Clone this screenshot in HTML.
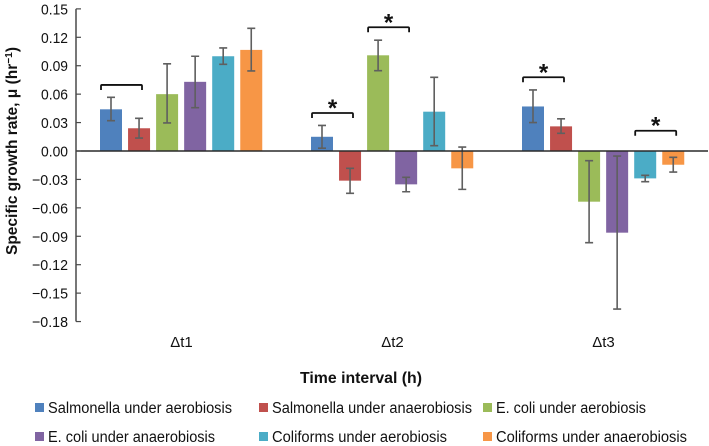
<!DOCTYPE html>
<html lang="en">
<head>
<meta charset="utf-8">
<title>Specific growth rate chart</title>
<style>
html,body{margin:0;padding:0;background:#fff;width:709px;height:446px;overflow:hidden}
svg{display:block;filter:blur(0.35px)}
text{font-family:"Liberation Sans",sans-serif;fill:#111}
</style>
</head>
<body>
<svg id="chart" xmlns="http://www.w3.org/2000/svg" width="709" height="446" viewBox="0 0 709 446">
  <rect x="0" y="0" width="709" height="446" fill="#fff"/>
  <g id="bars"></g>
  <g id="errors"></g>
  <g id="brackets"></g>
  <g id="axes"></g>
  <text transform="translate(17,255) rotate(-90)" font-size="16" font-weight="700" textLength="208" lengthAdjust="spacingAndGlyphs">Specific growth rate, μ (hr<tspan font-size="10.5" dy="-5">−1</tspan><tspan dy="5">)</tspan></text>
  <text x="300" y="383" font-size="16" font-weight="700" textLength="122" lengthAdjust="spacingAndGlyphs">Time interval (h)</text>
  <g id="legend"></g>
</svg>
<script>
const categories = ['Δt1', 'Δt2', 'Δt3'];
const seriesNames = ['Salmonella under aerobiosis', 'Salmonella under anaerobiosis', 'E. coli under aerobiosis', 'E. coli under anaerobiosis', 'Coliforms under aerobiosis', 'Coliforms under anaerobiosis'];
const seriesColors = ['#4F81BD', '#C0504D', '#9BBB59', '#8064A2', '#4BACC6', '#F79646'];
const salmonellaAerobic = [0.044, 0.015, 0.047];
const salmonellaAnaerobic = [0.024, -0.0313, 0.026];
const ecoliAerobic = [0.060, 0.101, -0.0535];
const ecoliAnaerobic = [0.073, -0.0352, -0.0862];
const coliformsAerobic = [0.100, 0.0415, -0.0289];
const coliformsAnaerobic = [0.1067, -0.0183, -0.0145];
const errHighSalmonellaAerobic = [0.0567, 0.027, 0.0644];
const errLowSalmonellaAerobic = [0.032, 0.003, 0.030];
const errHighSalmonellaAnaerobic = [0.0345, -0.0183, 0.034];
const errLowSalmonellaAnaerobic = [0.0137, -0.0447, 0.0187];
const errHighEcoliAerobic = [0.092, 0.117, -0.0102];
const errLowEcoliAerobic = [0.0296, 0.0848, -0.0968];
const errHighEcoliAnaerobic = [0.100, -0.0278, -0.0053];
const errLowEcoliAnaerobic = [0.0457, -0.043, -0.1668];
const errHighColiformsAerobic = [0.1088, 0.0778, -0.0257];
const errLowColiformsAerobic = [0.0915, 0.0056, -0.0324];
const errHighColiformsAnaerobic = [0.1295, 0.0042, -0.0067];
const errLowColiformsAnaerobic = [0.0845, -0.0405, -0.0222];
const tickValues = [0.15, 0.12, 0.09, 0.06, 0.03, 0, -0.03, -0.06, -0.09, -0.12, -0.15, -0.18];
const bracketGroups = [0, 1, 1, 2, 2];
const bracketFirstSeries = [0, 0, 2, 0, 4];
const bracketLevels = [0.0697, 0.0401, 0.1306, 0.0778, 0.0214];
const bracketMarks = ['', '*', '*', '*', '*'];

const seriesValues = [salmonellaAerobic, salmonellaAnaerobic, ecoliAerobic, ecoliAnaerobic, coliformsAerobic, coliformsAnaerobic];
const seriesErrHigh = [errHighSalmonellaAerobic, errHighSalmonellaAnaerobic, errHighEcoliAerobic, errHighEcoliAnaerobic, errHighColiformsAerobic, errHighColiformsAnaerobic];
const seriesErrLow = [errLowSalmonellaAerobic, errLowSalmonellaAnaerobic, errLowEcoliAerobic, errLowEcoliAnaerobic, errLowColiformsAerobic, errLowColiformsAnaerobic];

const NS = 'http://www.w3.org/2000/svg';
const axisX = 76;
const groupWidth = 211;
const barWidth = 22;
const barStep = 28.05;
const yScale = v => 151 - v * 947.5;
const groupCenter = g => axisX + groupWidth * (g + 0.5);
const barLeft = (g, s) => groupCenter(g) - 81.5 + s * barStep;

function make(tag, parent, attrs, text) {
  const el = document.createElementNS(NS, tag);
  for (const k in attrs) el.setAttribute(k, attrs[k]);
  if (text !== undefined) el.textContent = text;
  parent.appendChild(el);
  return el;
}
const barsG = document.getElementById('bars');
const errG = document.getElementById('errors');
const brG = document.getElementById('brackets');
const axG = document.getElementById('axes');
const lgG = document.getElementById('legend');

seriesValues.forEach((vals, s) => {
  vals.forEach((v, g) => {
    const y0 = yScale(0), y1 = yScale(v);
    const bar = make('rect', barsG, {x: barLeft(g, s), y: Math.min(y0, y1), width: barWidth, height: Math.abs(y1 - y0), fill: seriesColors[s]});
    
    

    const cx = barLeft(g, s) + barWidth / 2;
    const hi = yScale(seriesErrHigh[s][g]), lo = yScale(seriesErrLow[s][g]);
    const d = `M${cx} ${hi}V${lo}M${cx - 4} ${hi}H${cx + 4}M${cx - 4} ${lo}H${cx + 4}`;
    const err = make('path', errG, {d: d, fill: 'none', stroke: '#5f5f5f', 'stroke-width': 1.6});
    
    
  });
});

bracketGroups.forEach((g, i) => {
  const x0 = barLeft(g, bracketFirstSeries[i]) + 1;
  const x1 = x0 + 41;
  const y = yScale(bracketLevels[i]);
  const br = make('path', brG, {d: `M${x0} ${y + 5}V${y + 1}Q${x0} ${y} ${x0 + 1} ${y}H${x1 - 1}Q${x1} ${y} ${x1} ${y + 1}V${y + 5}`, fill: 'none', stroke: '#111', 'stroke-width': 1.8});
  
  
  if (bracketMarks[i]) {
    const st = make('text', brG, {x: (x0 + x1) / 2, y: y + 3, 'text-anchor': 'middle', 'font-size': 24, 'font-weight': 700}, bracketMarks[i]);
    
    
  }
});

const yAxisLine = make('line', axG, {x1: axisX, x2: axisX, y1: yScale(tickValues[0]), y2: yScale(tickValues[tickValues.length - 1]), stroke: '#4a4a4a', 'stroke-width': 1.5});


const xAxisLine = make('line', axG, {x1: axisX, x2: 708, y1: yScale(0), y2: yScale(0), stroke: '#2a2a2a', 'stroke-width': 1.4});



tickValues.forEach(v => {
  const y = yScale(v);
  const tick = make('line', axG, {x1: axisX, x2: axisX + 5, y1: y, y2: y, stroke: '#4a4a4a', 'stroke-width': 1.2});
  
  
  const txt = (v < 0 ? '−' : '') + Math.abs(v).toFixed(2);
  const lab = make('text', axG, {x: v < 0 ? 32 : 41, y: y + 5.5, 'font-size': 15, textLength: v < 0 ? 36 : 27, lengthAdjust: 'spacingAndGlyphs'}, txt);
  
  
});

categories.forEach((c, g) => {
  const lab = make('text', axG, {x: groupCenter(g), y: 347, 'text-anchor': 'middle', 'font-size': 15}, c);
  
  
});

const legendCols = [35, 259, 483];
const legendRows = [403, 432];
const legendWidths = [184, 200, 150, 167, 175, 191];
seriesNames.forEach((name, s) => {
  const col = s % 3, row = Math.floor(s / 3);
  const sw = make('rect', lgG, {x: legendCols[col], y: legendRows[row], width: 9, height: 9, fill: seriesColors[s]});
  
  
  const t = make('text', lgG, {x: legendCols[col] + 13, y: legendRows[row] + 10, 'font-size': 15.5, textLength: legendWidths[s], lengthAdjust: 'spacingAndGlyphs'}, name);
  
  
});
</script>
</body>
</html>
